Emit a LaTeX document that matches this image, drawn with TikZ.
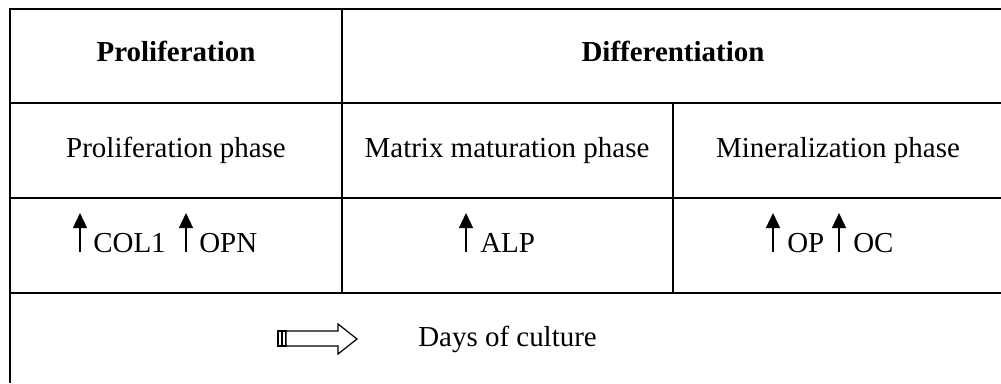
\documentclass[tikz,border=0pt]{standalone}
\usepackage{fontspec}
\setmainfont{Liberation Serif}
\usetikzlibrary{arrows.meta}

\begin{document}
\begin{tikzpicture}[
    x=0.25mm, y=-0.25mm,
    grid/.style={line width=0.6mm},
    txt/.style={inner sep=0pt, anchor=base, font=\fontsize{20.6pt}{24pt}\selectfont},
    gene/.style={txt, anchor=base west},
    uparrow/.style={-{Triangle[width=3.5mm, length=3.8mm]}, line width=0.5mm},
    hollow/.style={draw, line width=0.3mm, fill=white}
]
    \useasboundingbox (0,0) rectangle (1001,383);

    % Table lines
    \draw[grid] (1001,9) -- (10,9) -- (10,383);
    \draw[grid] (10,103) -- (1001,103);
    \draw[grid] (10,198) -- (1001,198);
    \draw[grid] (10,293) -- (1001,293);
    \draw[grid] (342,9) -- (342,293);
    \draw[grid] (673,103) -- (673,293);

    % Headings
    \node[txt] (prolhead) at (176,62) {\textbf{Proliferation}};
    \node[txt] (diffhead) at (673,62) {\textbf{Differentiation}};

    % Phases
    \node[txt] (prolphase) at (176,157) {Proliferation phase};
    \node[txt] (matphase) at (507,157) {Matrix maturation phase};
    \node[txt] (minphase) at (838,157) {Mineralization phase};

    % Markers
    \node[gene] (col) at (93,252) {COL1};
    \node[gene] (opn) at (199,252) {OPN};
    \node[gene] (alp) at (480,252) {ALP};
    \node[gene] (op) at (787,252) {OP};
    \node[gene] (oc) at (853,252) {OC};

    % Up arrows
    \coordinate (col0) at (80,252);  \coordinate (col1) at (80,213);
    \coordinate (opn0) at (186,252); \coordinate (opn1) at (186,213);
    \coordinate (alp0) at (466,252); \coordinate (alp1) at (466,213);
    \coordinate (op0) at (773,252);  \coordinate (op1) at (773,213);
    \coordinate (oc0) at (839,252);  \coordinate (oc1) at (839,213);
    \draw[uparrow] (col0) -- (col1);
    \draw[uparrow] (opn0) -- (opn1);
    \draw[uparrow] (alp0) -- (alp1);
    \draw[uparrow] (op0) -- (op1);
    \draw[uparrow] (oc0) -- (oc1);

    % Time axis
    \draw[hollow] (278,331) rectangle (281.5,346);
    \draw[hollow] (282.5,331) rectangle (286,346);
    \draw[hollow] (286,331) -- (338,331) -- (338,324) -- (357,339) -- (338,354) -- (338,346) -- (286,346) -- cycle;
    \node[gene] (days) at (418,346) {Days of culture};
\end{tikzpicture}
\end{document}
